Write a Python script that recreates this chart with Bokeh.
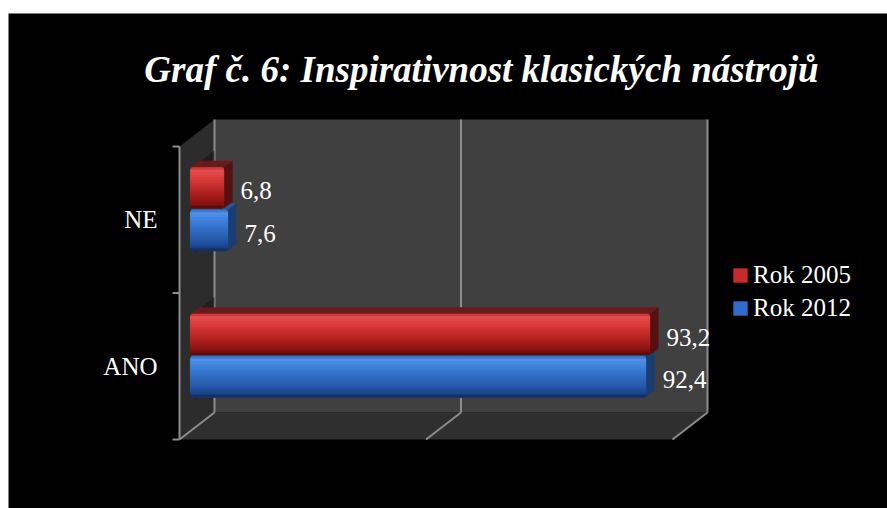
from bokeh.plotting import figure
from bokeh.models import ColumnDataSource, Range1d, Label, Legend, LegendItem
from bokeh.core.properties import value
from bokeh.embed import file_html
from bokeh.resources import INLINE

# ---------------- data ----------------
title_text = "Graf č. 6: Inspirativnost klasických nástrojů"
categories = ["ANO", "NE"]
series_names = ["Rok 2005", "Rok 2012"]
rok_2005 = [93.2, 6.8]
rok_2012 = [92.4, 7.6]
x_ticks = [0, 50, 100]

# ---------------- layout / style constants ----------------
W, H = 879, 495          # figure size (page has 8px left, 13px top white margin)
X0, SX = 171.0, 4.93     # frame px of value 0 on front plane, px per unit
Y0, SY = 426.0, 146.5    # frame px (from top) of category axis bottom, px per category
DX, DY = 35.0 / SX, 27.0 / SY   # full depth of the 3D box in data units
F0, FD = 0.31, 0.25              # bar front-plane depth fraction, bar depth fraction
OX, OY = F0 * DX, F0 * DY
BDX, BDY = FD * DX, FD * DY
BAR_H = 0.28
OFFS = [0.16, -0.13]
FONT = "Liberation Serif"
GRID = "#8c8c8c"
NSTRIP = 16

stops = [
    [(0.0, (0xb8, 0x30, 0x30)), (0.08, (0xe8, 0x4e, 0x4e)), (0.35, (0xd4, 0x36, 0x36)),
     (0.7, (0xa8, 0x1c, 0x1c)), (0.92, (0x80, 0x10, 0x10)), (1.0, (0x4a, 0x08, 0x08))],
    [(0.0, (0x30, 0x6c, 0xc0)), (0.08, (0x50, 0x92, 0xea)), (0.35, (0x3a, 0x78, 0xd2)),
     (0.7, (0x28, 0x5c, 0xb0)), (0.92, (0x1a, 0x42, 0x86)), (1.0, (0x0e, 0x26, 0x52))],
]
top_cols = ["#6a1a1a", "#2a5596"]
side_cols = ["#561010", "#1b3d72"]
legend_cols = ["#c62a2a", "#2f6ccb"]


def interp(st, t):
    for (t0, c0), (t1, c1) in zip(st[:-1], st[1:]):
        if t0 <= t <= t1:
            f = (t - t0) / (t1 - t0)
            return "#%02x%02x%02x" % tuple(int(round(a + (b - a) * f)) for a, b in zip(c0, c1))
    return "#%02x%02x%02x" % st[-1][1]


p = figure(width=W, height=H, output_backend="svg", toolbar_location=None,
           x_range=Range1d(-X0 / SX, (W - X0) / SX),
           y_range=Range1d(-(H - Y0) / SY, Y0 / SY),
           min_border=0, margin=(13, 0, 0, 8))
p.axis.visible = False
p.grid.visible = False
p.outline_line_color = None
p.background_fill_color = "black"
p.border_fill_color = "black"

ncat = len(categories)
xmax = x_ticks[-1]

# ---------------- 3D box ----------------
p.patch([0, xmax, xmax + DX, DX], [0, 0, DY, DY], fill_color="#2f2f2f", line_color=None)       # floor
p.patch([0, DX, DX, 0], [0, DY, ncat + DY, ncat], fill_color="#2c2c2c", line_color=None)       # side wall
p.quad(left=DX, right=xmax + DX, bottom=DY, top=ncat + DY, fill_color="#404040", line_color=None)  # back wall

for t in x_ticks:
    p.line([t + DX, t + DX], [DY, ncat + DY], line_color=GRID, line_width=2)
    p.line([t, t + DX], [0, DY], line_color=GRID, line_width=2)

# category axis
p.line([0, 0], [0, ncat], line_color=GRID, line_width=2)
for k in range(ncat + 1):
    p.line([-7 / SX, 0], [k, k], line_color=GRID, line_width=2)

p.text(x=[-22 / SX] * ncat, y=[i + 0.5 for i in range(ncat)], text=categories,
       text_font=value(FONT), text_font_size="25px", text_color="white",
       text_align="right", text_baseline="middle")

# ---------------- bars ----------------
series = [rok_2005, rok_2012]
centers = [[i + 0.5 + OFFS[s] + OY for i in range(ncat)] for s in range(2)]


def face_polys(vals, cen):
    tops, sides = ([], []), ([], [])
    for v, c in zip(vals, cen):
        yt, yb = c + BAR_H / 2, c - BAR_H / 2
        tops[0].append([OX, OX + v, OX + v + BDX, OX + BDX])
        tops[1].append([yt, yt, yt + BDY, yt + BDY])
        sides[0].append([OX + v, OX + v, OX + v + BDX, OX + v + BDX])
        sides[1].append([yb, yt, yt + BDY, yb + BDY])
    return tops, sides


# shadows of the bars on the side wall
for s in [0, 1]:
    for c in centers[s]:
        p.patch([DX * 0.45, DX, DX, DX * 0.45],
                [c - BAR_H * 0.55, c - BAR_H * 0.55 + DY * 0.55, c + BAR_H * 0.55 + DY * 0.55, c + BAR_H * 0.55],
                fill_color="#151515", fill_alpha=0.55, line_color=None)

# draw lower (blue) depth faces first, then red
for s in [1, 0]:
    tops, sides = face_polys(series[s], centers[s])
    p.patches(tops[0], tops[1], fill_color=top_cols[s], line_color=None)
    p.patches(sides[0], sides[1], fill_color=side_cols[s], line_color=None)

legend_rs = []
for s in [0, 1]:
    base = p.hbar(y=centers[s], left=[OX] * ncat, right=[OX + v for v in series[s]],
                  height=BAR_H, fill_color=legend_cols[s], line_color=None, border_radius=4)
    legend_rs.append(base)
    sh = BAR_H / NSTRIP
    for k in range(NSTRIP):
        ys = [c + BAR_H / 2 - (k + 0.5) * sh for c in centers[s]]
        col = interp(stops[s], (k + 0.5) / NSTRIP)
        br = 0
        if k == 0:
            br = (3, 3, 0, 0)
        elif k == NSTRIP - 1:
            br = (0, 0, 3, 3)
        p.hbar(y=ys, left=[OX] * ncat, right=[OX + v for v in series[s]], height=sh,
               fill_color=col, line_color=col, line_width=0.6, border_radius=br)
    # value labels
    lsrc = ColumnDataSource(dict(
        x=[OX + v + BDX + 8 / SX for v in series[s]],
        y=[c - 3 / SY for c in centers[s]],
        t=[str(v).replace(".", ",") for v in series[s]]))
    p.text(x="x", y="y", text="t", source=lsrc, text_font=value(FONT), text_font_size="25px",
           text_color="white", text_baseline="middle", text_align="left")

legend = Legend(items=[LegendItem(label=series_names[i], renderers=[legend_rs[i]]) for i in range(2)],
                location=(723, 186), padding=0, margin=0, spacing=5,
                glyph_width=18, glyph_height=18, label_standoff=4,
                label_text_font=FONT, label_text_font_size="25px", label_text_color="white",
                background_fill_alpha=0, border_line_color=None)
p.add_layout(legend)

p.add_layout(Label(x=473, y=439, x_units="screen", y_units="screen", text=title_text,
                   text_font=FONT, text_font_size="37px", text_font_style="bold italic",
                   text_color="white", text_align="center", text_baseline="alphabetic"))

open("out.html", "w").write(file_html(p, INLINE))
